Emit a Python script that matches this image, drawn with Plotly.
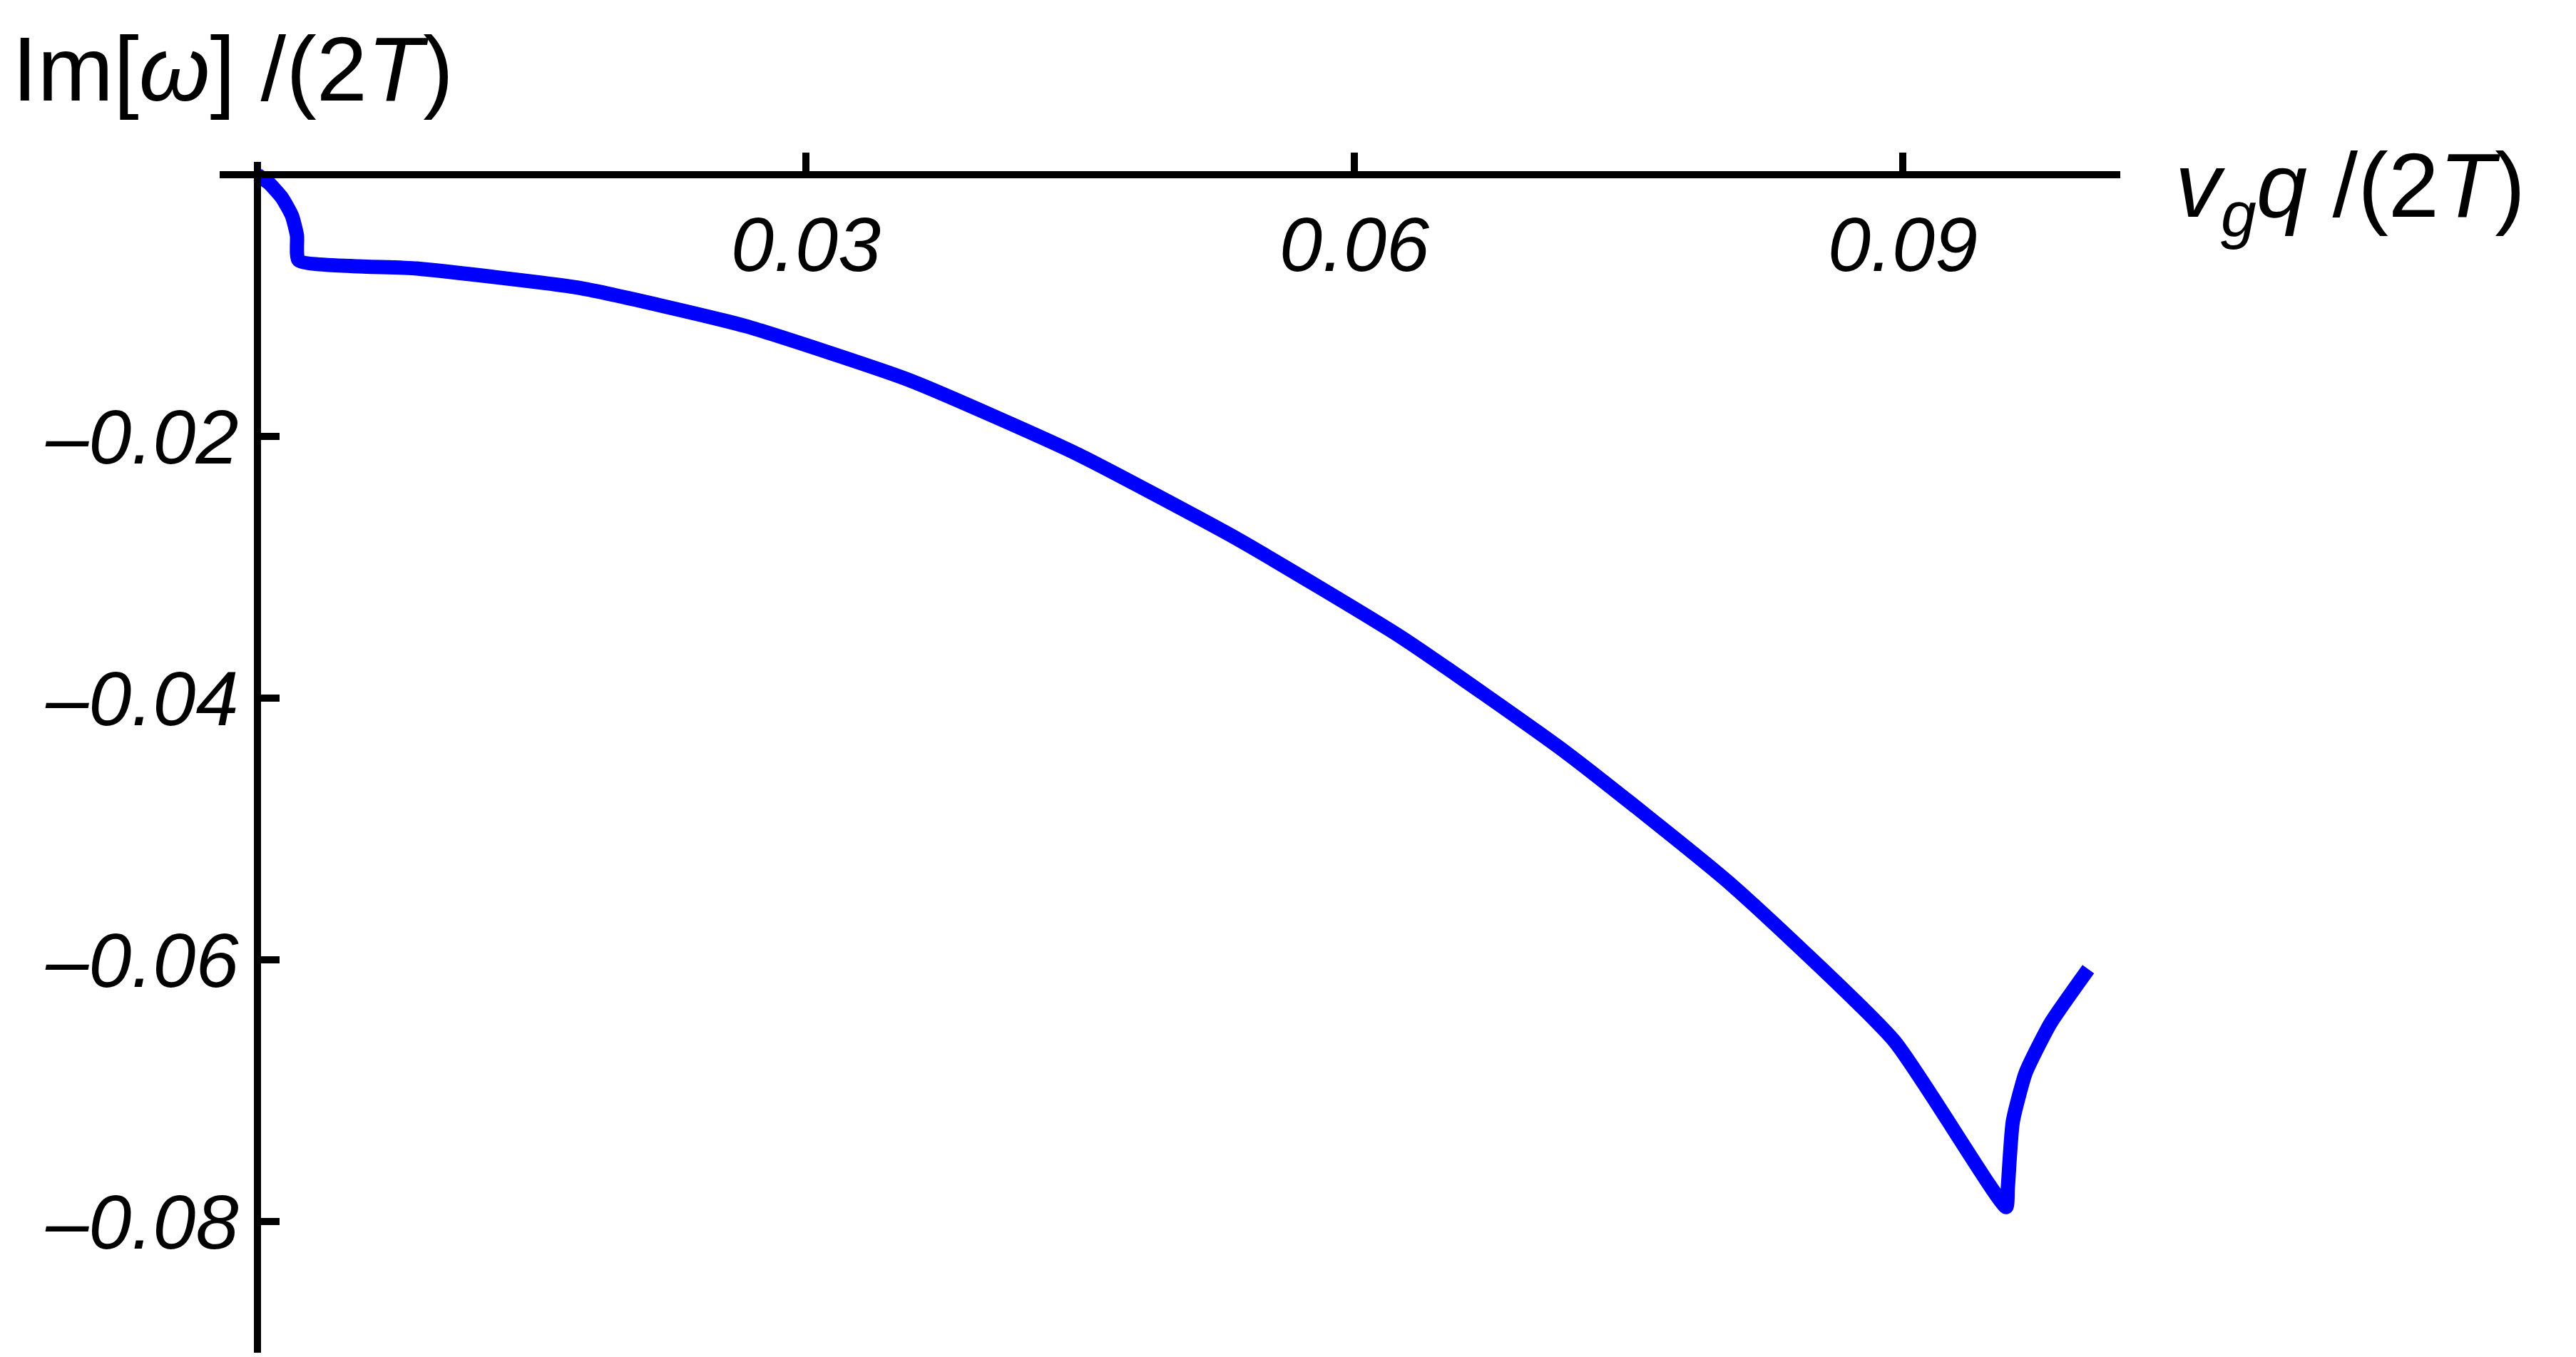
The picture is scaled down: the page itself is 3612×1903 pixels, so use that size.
import plotly.graph_objects as go

x_vals = [0.0, 0.00063, 0.00135, 0.00189, 0.00216, 0.00225, 0.00871, 0.01769, 0.02668, 0.03566, 0.04464, 0.05363, 0.06261, 0.07159, 0.08057, 0.08955, 0.09566, 0.09575, 0.09602, 0.09673, 0.09808, 0.10015]
y_vals = [0.0, -0.00063, -0.00176, -0.00313, -0.00464, -0.00652, -0.00715, -0.00865, -0.01154, -0.01568, -0.02119, -0.02784, -0.03536, -0.04414, -0.05417, -0.06620, -0.07887, -0.07737, -0.07235, -0.06859, -0.06483, -0.06069]
x_ticks = [0.03, 0.06, 0.09]
x_labels = ["0.03", "0.06", "0.09"]
y_ticks = [-0.02, -0.04, -0.06, -0.08]
y_labels = ["\u20130.02", "\u20130.04", "\u20130.06", "\u20130.08"]

xr = [-0.00207, 0.1019]
yr = [-0.09, 0.001]

fig = go.Figure(go.Scatter(x=x_vals, y=y_vals, mode="lines",
                           line=dict(color="#0000FF", width=20, shape="spline", smoothing=0.5)))
tf = dict(family="Liberation Sans, Arial", size=108, color="black", style="italic")
fig.update_layout(
    width=3612, height=1903, plot_bgcolor="white", paper_bgcolor="white",
    margin=dict(l=300, r=647, t=219, b=14), showlegend=False,
    xaxis=dict(range=xr, anchor="free", position=(0 - yr[0]) / (yr[1] - yr[0]),
               showline=True, linecolor="black", linewidth=10, showgrid=False, zeroline=False,
               tickvals=x_ticks, ticktext=x_labels, ticks="inside", ticklen=26, tickwidth=10,
               tickcolor="black", tickfont=tf),
    yaxis=dict(range=yr, anchor="free", position=(0 - xr[0]) / (xr[1] - xr[0]),
               showline=True, linecolor="black", linewidth=10, showgrid=False, zeroline=False,
               tickvals=y_ticks, ticktext=y_labels, ticks="inside", ticklen=26, tickwidth=10,
               tickcolor="black", tickfont=tf),
)
fig.add_annotation(xref="paper", yref="paper", x=1.028, y=0.975, xanchor="left", yanchor="middle",
                   text="<i>v<sub>g</sub>q</i> /(2<i>T</i>)", showarrow=False,
                   font=dict(family="Liberation Sans, Arial", size=128, color="black"))
fig.add_annotation(xref="paper", yref="paper", x=-0.11, y=1.078, xanchor="left", yanchor="middle",
                   text="Im[<i>ω</i>] /(2<i>T</i>)", showarrow=False,
                   font=dict(family="Liberation Sans, Arial", size=128, color="black"))
fig.write_html("out.html")
